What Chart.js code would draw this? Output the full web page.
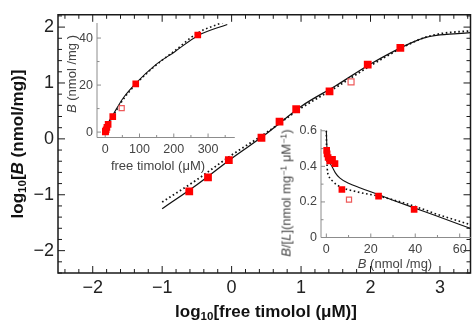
<!DOCTYPE html>
<html lang="en">
<head>
<meta charset="UTF-8">
<title>Timolol binding</title>
<script src="https://cdn.jsdelivr.net/npm/chart.js"></script>
<style>
  body { margin: 0; background: #fff; font-family: 'Liberation Sans', Arial, sans-serif; }
  #wrap { position: relative; width: 476px; height: 322px; overflow: hidden; }
  canvas { position: absolute; }
  .lbl { position: absolute; white-space: nowrap; line-height: 1; transform: translate(-50%, -50%); }
  .rot { transform: translate(-50%, -50%) rotate(-90deg); }
  .big { font-weight: bold; font-size: 17px; color: #111; }
  .small { font-size: 13px; color: #444; }
  sub { font-size: 0.68em; vertical-align: -0.3em; line-height: 0; }
  sup { font-size: 0.68em; vertical-align: 0.45em; line-height: 0; }
</style>
</head>
<body>
<div id="wrap">
  <canvas id="main" width="476" height="322" style="left:0;top:0"></canvas>
  <canvas id="iso" width="180" height="150" style="left:60px;top:10px"></canvas>
  <canvas id="scat" width="186" height="150" style="left:290px;top:115px"></canvas>

  <div class="lbl rot big" style="left:17px;top:144px">log<sub>10</sub>[<i>B</i> (nmol/mg)]</div>
  <div class="lbl big" style="left:266px;top:311px">log<sub>10</sub>[free timolol (μM)]</div>
  <div class="lbl rot small" style="left:71px;top:74px"><i>B</i> (nmol /mg )</div>
  <div class="lbl small" style="left:158px;top:165px">free timolol  (μM)</div>
  <div class="lbl rot small" style="left:286px;top:193px"><i>B</i>/[<i>L</i>](nmol mg<sup>−1</sup> μM<sup>−1</sup>)</div>
  <div class="lbl small" style="left:395px;top:263px"><i>B</i> (nmol /mg)</div>
</div>

<script>
  // main panel: log10 B vs log10 free timolol
  const logFree = [-0.61, -0.34, -0.04, 0.43, 0.69, 0.93, 1.41, 1.96, 2.43];
  const logB = [-0.94, -0.69, -0.38, 0.02, 0.31, 0.53, 0.85, 1.33, 1.63];
  const logFreeOpen = [1.72];
  const logBOpen = [1.02];
  const curveLogFree = [-1, -0.5, 0, 0.5, 1, 1.5, 2, 2.5, 2.75, 3, 3.2, 3.44];
  const solidLogB = [-1.25, -0.82, -0.35, 0.09, 0.58, 0.95, 1.34, 1.67, 1.80, 1.86, 1.88, 1.90];
  const dottedLogB = [-1.13, -0.73, -0.29, 0.11, 0.55, 0.92, 1.31, 1.66, 1.80, 1.88, 1.91, 1.93];
  const mainXLabels = [-2, -1, 0, 1, 2, 3];
  const mainYLabels = [-2, -1, 0, 1, 2];

  // upper inset: B vs free timolol
  const isoFree = [0.25, 0.46, 0.93, 2.7, 4.9, 8.5, 22, 89, 270];
  const isoB = [0.11, 0.2, 0.41, 1.0, 2.0, 3.3, 6.6, 20.5, 41.3];
  const isoFreeOpen = [48];
  const isoBOpen = [10.2];
  const isoCurveFree = [0, 2, 6, 12, 22, 51, 89, 146, 203, 270, 356];
  const isoSolidB = [0, 1.0, 2.8, 4.8, 7.2, 14.2, 20.7, 28.5, 34.2, 41.0, 45.8];
  const isoDotFree = [0, 2, 6, 12, 22, 51, 89, 146, 203, 270, 344];
  const isoDottedB = [0, 0.9, 2.4, 4.2, 6.6, 13.6, 20.3, 28.2, 34.6, 42.2, 46.7];
  const isoXLabels = [0, 100, 200, 300];
  const isoYLabels = [0, 20, 40];

  // lower inset: Scatchard B/[L] vs B
  const scB = [0.15, 0.35, 0.8, 1.5, 2.8, 3.9, 7.0, 23.5, 39.5];
  const scRatio = [0.49, 0.47, 0.45, 0.43, 0.44, 0.415, 0.27, 0.233, 0.158];
  const scBOpen = [10.2];
  const scRatioOpen = [0.213];
  const scSolidB = [0, 0.3, 1, 2.5, 4, 6, 10, 15, 23.7, 30, 39.2, 50, 65];
  const scSolid = [0.6, 0.5, 0.44, 0.40, 0.365, 0.335, 0.305, 0.28, 0.24, 0.21, 0.168, 0.12, 0.05];
  const scDotB = [0, 0.1, 0.4, 1, 3, 6, 13.4, 23.7, 30, 39.2, 50, 65];
  const scDotted = [0.6, 0.5, 0.39, 0.35, 0.315, 0.287, 0.258, 0.232, 0.212, 0.178, 0.13, 0.072];
  const scXLabels = [0, 20, 40, 60];
  const scYLabels = [0, 0.2, 0.4, 0.6];

  const FONT = "'Liberation Sans', Arial, sans-serif";
  const pts = (xs, ys) => xs.map((x, i) => ({ x: x, y: ys[i] }));
  const fmt = v => (v < 0 ? '\u2212' + Math.abs(v) : String(v));
  const steps = (lo, hi, st) => {
    const out = [];
    for (let k = Math.ceil(lo / st - 1e-9); k * st <= hi + 1e-9; k++) out.push(Math.round(k * st * 1000) / 1000);
    return out;
  };
  const isMajor = (list, v) => list.some(m => Math.abs(m - v) < 1e-6);

  // frame + inward tick marks
  function tickPlugin(cfg) {
    return {
      id: 'ticks_' + Math.random().toString(36).slice(2),
      beforeDatasetsDraw(chart) {
        const { ctx, chartArea: a, scales: { x, y } } = chart;
        ctx.save();
        ctx.strokeStyle = cfg.color;
        ctx.lineWidth = cfg.lineWidth;
        ctx.beginPath();
        if (cfg.frame) {
          ctx.rect(a.left, a.top, a.right - a.left, a.bottom - a.top);
        } else {
          ctx.moveTo(a.left, a.top);
          ctx.lineTo(a.left, a.bottom);
          ctx.lineTo(a.right, a.bottom);
        }
        ctx.stroke();
        ctx.lineWidth = cfg.tickWidth;
        ctx.beginPath();
        x.ticks.forEach(t => {
          const px = x.getPixelForValue(t.value);
          const len = isMajor(cfg.xMajor, t.value) ? cfg.major : cfg.minor;
          ctx.moveTo(px, a.bottom); ctx.lineTo(px, a.bottom - len);
          if (cfg.frame) { ctx.moveTo(px, a.top); ctx.lineTo(px, a.top + len); }
        });
        y.ticks.forEach(t => {
          const py = y.getPixelForValue(t.value);
          const len = isMajor(cfg.yMajor, t.value) ? cfg.major : cfg.minor;
          ctx.moveTo(a.left, py); ctx.lineTo(a.left + len, py);
          if (cfg.frame) { ctx.moveTo(a.right, py); ctx.lineTo(a.right - len, py); }
        });
        ctx.stroke();
        ctx.restore();
      }
    };
  }

  function axis(min, max, step, labels, size, horizontal, fontSize, color, pad) {
    return {
      type: 'linear', min: min, max: max,
      grid: { display: false, drawTicks: false },
      border: { display: false },
      afterBuildTicks: s => { s.ticks = steps(min, max, step).map(v => ({ value: v })); },
      afterFit: s => { if (horizontal) s.height = size; else s.width = size; },
      ticks: {
        autoSkip: false, maxRotation: 0, padding: pad,
        font: { family: FONT, size: fontSize }, color: color,
        callback: v => (isMajor(labels, v) ? fmt(Math.round(v * 100) / 100) : '')
      }
    };
  }

  function squares(data, r, open) {
    return {
      data: data, showLine: false, order: 0,
      pointStyle: 'rect', pointRadius: r,
      backgroundColor: open ? '#ffffff' : '#ff0000',
      borderColor: open ? '#ee5a5a' : '#ff0000',
      pointBorderWidth: open ? 1.2 : 0
    };
  }
  function curve(data, dotted, w) {
    return {
      data: data, showLine: true, pointRadius: 0, order: 1,
      borderColor: '#111', borderWidth: dotted ? w + 0.5 : w,
      borderDash: dotted ? [1.6, 2.6] : [],
      cubicInterpolationMode: 'monotone', fill: false
    };
  }
  const common = {
    responsive: false, animation: false, devicePixelRatio: 1,
    plugins: { legend: { display: false }, tooltip: { enabled: false } }
  };

  new Chart(document.getElementById('main'), {
    type: 'scatter',
    data: { datasets: [
      squares(pts(logFree, logB), 5.5, false),
      squares(pts(logFreeOpen, logBOpen), 4.2, true),
      curve(pts(curveLogFree, solidLogB), false, 1.3),
      curve(pts(curveLogFree, dottedLogB), true, 1.3)
    ] },
    options: Object.assign({}, common, {
      layout: { padding: { top: 14, right: 4, left: 0, bottom: 0 } },
      scales: {
        x: axis(-2.5, 3.44, 0.2, mainXLabels, 49, true, 18, '#222', 4),
        y: axis(-2.4, 2.22, 0.2, mainYLabels, 58, false, 18, '#222', 4)
      }
    }),
    plugins: [tickPlugin({ frame: true, color: '#1a1a1a', lineWidth: 1.5, tickWidth: 1,
      major: 7, minor: 4, xMajor: mainXLabels, yMajor: mainYLabels })]
  });

  new Chart(document.getElementById('iso'), {
    type: 'scatter',
    data: { datasets: [
      squares(pts(isoFree, isoB), 4.7, false),
      squares(pts(isoFreeOpen, isoBOpen), 3.6, true),
      curve(pts(isoCurveFree, isoSolidB), false, 1.1),
      curve(pts(isoDotFree, isoDottedB), true, 1.1)
    ] },
    options: Object.assign({}, common, {
      layout: { padding: { top: 13, right: 2, left: 0, bottom: 0 } },
      scales: {
        x: axis(-24, 378, 50, isoXLabels, 22.5, true, 12.5, '#444', 5),
        y: axis(-2.3, 46.4, 10, isoYLabels, 37, false, 12.5, '#444', 4)
      }
    }),
    plugins: [tickPlugin({ frame: false, color: '#8c8c8c', lineWidth: 1, tickWidth: 1,
      major: 4, minor: 2.5, xMajor: isoXLabels, yMajor: isoYLabels })]
  });

  new Chart(document.getElementById('scat'), {
    type: 'scatter',
    data: { datasets: [
      squares(pts(scB, scRatio), 4.7, false),
      squares(pts(scBOpen, scRatioOpen), 3.6, true),
      curve(pts(scSolidB, scSolid), false, 1.1),
      curve(pts(scDotB, scDotted), true, 1.1)
    ] },
    options: Object.assign({}, common, {
      layout: { padding: { top: 14, right: 3, left: 0, bottom: 0 } },
      scales: {
        x: axis(-2.4, 65, 10, scXLabels, 27.5, true, 12.5, '#444', 5),
        y: axis(0, 0.61, 0.1, scYLabels, 31, false, 12.5, '#444', 4)
      }
    }),
    plugins: [tickPlugin({ frame: false, color: '#8c8c8c', lineWidth: 1, tickWidth: 1,
      major: 4, minor: 2.5, xMajor: scXLabels, yMajor: scYLabels })]
  });
</script>
</body>
</html>
